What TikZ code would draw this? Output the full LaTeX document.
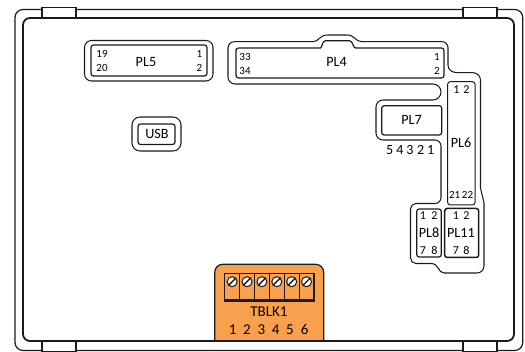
\documentclass[tikz,border=0pt]{standalone}
\usepackage{fontspec}
\setmainfont{Carlito}
\definecolor{blockorange}{HTML}{F9A04E}
\definecolor{ink}{HTML}{1A1A1A}
\tikzset{
  thinline/.style={draw=ink,line width=1.2pt},
  thickline/.style={draw=ink,line width=1.8pt},
  tab/.style={draw=ink,line width=1.2pt,fill=white},
  contour/.style={draw=ink,line width=1.05pt},
  port/.style={draw=ink,line width=1.2pt,rounded corners=2.5pt},
  lab/.style={inner sep=0pt,text height=9pt,text depth=0pt,font=\fontsize{14.2}{16}\selectfont},
  pin/.style={inner sep=0pt,text height=7pt,text depth=0pt,font=\fontsize{11}{13}\selectfont},
  mid/.style={inner sep=0pt,text height=8pt,text depth=0pt,font=\fontsize{12}{14}\selectfont},
  num/.style={inner sep=0pt,text height=9.5pt,text depth=0pt,font=\fontsize{15}{17}\selectfont},
  digit/.style={inner sep=0pt,text height=9pt,text depth=0pt,font=\fontsize{14}{16}\selectfont},
  screw/.style={circle,draw=ink,line width=1pt,fill=white,minimum size=10pt,inner sep=0pt}
}
\begin{document}
\begin{tikzpicture}[x=1pt,y=-1pt]
\useasboundingbox (0,0) rectangle (525,352);
% housing
\draw[thinline,rounded corners=8pt] (15,9.5) rectangle (522.7,350.5);
\draw[thickline,rounded corners=7pt] (23,18) rectangle (514,341);
\draw[tab] (42,7.5) rectangle (76,18);
\draw[tab] (463,7.5) rectangle (497,18);
\draw[tab] (42,341) rectangle (76,351.3);
\draw[tab] (463,341) rectangle (497,351.3);
% PL5
\draw[contour,rounded corners=7pt] (84.5,40.5) rectangle (213,81);
\draw[port] (91,45) rectangle (207,76);
\node[lab] (pl5) at (146,62) {PL5};
\node[pin] (p19) at (102,54) {19};
\node[pin] (p20) at (102,68) {20};
\node[pin] (p51) at (199.5,54) {1};
\node[pin] (p52) at (199.5,68) {2};
% USB
\draw[contour,rounded corners=8pt] (132,117) rectangle (181,151);
\draw[port] (138,124) rectangle (175,144.5);
\node[lab] (usb) at (157,134) {USB};
% large contour around PL4, PL7, PL6, PL8, PL11
\draw[contour] (228,48) arc[start angle=180,end angle=270,radius=6.3]
  -- (313,41.7) .. controls (319,41.7) and (319,35) .. (328,35)
  -- (347,35) .. controls (355,35) and (355,41.7) .. (362,41.7)
  -- (442,41.7) arc[start angle=270,end angle=360,radius=6]
  -- (448,65) .. controls (448,70) and (452,72.7) .. (458,72.7)
  -- (473,72.7) arc[start angle=270,end angle=360,radius=7.5]
  -- (480.5,188) -- (484,203) -- (484,266)
  arc[start angle=0,end angle=90,radius=7]
  -- (444,273) .. controls (438,273) and (439,263.5) .. (431,263.5)
  -- (416,263.5) arc[start angle=90,end angle=180,radius=5.5]
  -- (410.5,209) arc[start angle=180,end angle=270,radius=5.5]
  -- (435,203.5) arc[start angle=90,end angle=0,radius=6]
  -- (441,146) arc[start angle=0,end angle=-90,radius=6]
  -- (383,140) arc[start angle=90,end angle=180,radius=7]
  -- (376,107) arc[start angle=180,end angle=270,radius=7]
  -- (433,100) arc[start angle=90,end angle=-90,radius=8]
  -- (235,84) arc[start angle=90,end angle=180,radius=7]
  -- cycle;
% PL4
\draw[port] (236,52) -- (236,48) -- (318,48)
  .. controls (322,48) and (322,40.8) .. (328,40.8)
  -- (347,40.8) .. controls (353,40.8) and (353,48) .. (358,48)
  -- (444,48) -- (444,78) -- (236,78) -- cycle;
\node[lab] (pl4) at (336.5,62) {PL4};
\node[pin] (p33) at (245,57) {33};
\node[pin] (p34) at (245,71) {34};
\node[pin] (p41) at (437,57) {1};
\node[pin] (p42) at (437,71) {2};
% PL7
\draw[port] (381.7,105.7) rectangle (441.7,135);
\node[lab] (pl7) at (411.5,120) {PL7};
\node[digit] at (389.7,150) {5};
\node[digit] at (400,150) {4};
\node[digit] at (410,150) {3};
\node[digit] at (420.7,150) {2};
\node[digit] at (430.7,150) {1};
% PL6
\draw[port,line width=1pt] (447.7,81.7) rectangle (475,205);
\node[lab] (pl6) at (461,143.3) {PL6};
\node[mid] at (456.5,90) {1};
\node[mid] at (466.5,90) {2};
\node[pin] at (454.7,195) {21};
\node[pin] at (467.5,195) {22};
% PL8
\draw[port] (416.7,209) rectangle (441.3,257);
\node[lab] (pl8) at (429,233.5) {PL8};
\node[mid] at (423,215.5) {1};
\node[mid] at (434.5,215.5) {2};
\node[mid] at (423,251) {7};
\node[mid] at (434.5,251) {8};
% PL11
\draw[port,line width=1.5pt] (444.7,208.5) rectangle (478.7,257.5);
\node[lab] (pl11) at (461,233.5) {PL11};
\node[mid] at (456,215.5) {1};
\node[mid] at (466.5,215.5) {2};
\node[mid] at (456,251) {7};
\node[mid] at (466.5,251) {8};
% TBLK1
\draw[draw=ink,line width=1.2pt,fill=blockorange,rounded corners=8pt]
  (214.7,341) -- (214.7,264.3) -- (323.7,264.3) -- (323.7,341);
\draw[draw=ink,line width=1.2pt] (214.7,341) -- (323.7,341);
\foreach \i in {0,...,5}{
  \pgfmathsetmacro{\xa}{224.7+14.88*\i}
  \pgfmathsetmacro{\xb}{\xa+14.88}
  \pgfmathsetmacro{\xc}{\xa+7.44}
  \draw[draw=ink,line width=1.1pt] (\xa,273.7) rectangle (\xb,301.7);
  \fill[ink] (\xa,298.7) rectangle (\xb,301.7);
  \node[screw] (s\i) at (\xc,281.7) {};
  \draw[draw=ink,line width=1.4pt] (s\i.south west) -- (s\i.north east);
}
\node[num] (tb) at (269,312) {TBLK1};
\node[num] at (232.7,330) {1};
\node[num] at (247,330) {2};
\node[num] at (261.3,330) {3};
\node[num] at (275.7,330) {4};
\node[num] at (290,330) {5};
\node[num] at (304.7,330) {6};
\end{tikzpicture}
\end{document}
